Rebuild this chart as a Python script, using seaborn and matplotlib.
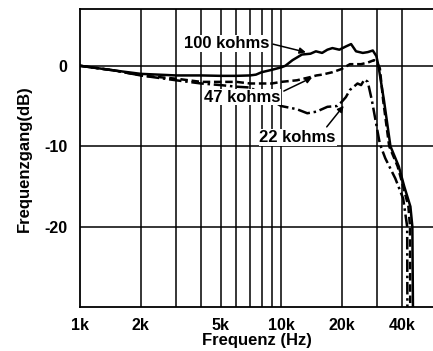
import numpy as np
import pandas as pd
import matplotlib
matplotlib.use("Agg")
import matplotlib.pyplot as plt
import seaborn as sns

# 100 kohms (solid)
f_100k = [1000, 1500, 2000, 3000, 4000, 5000, 6000, 7000, 7500, 8000, 9000, 10000,
          10500, 11400, 12700, 14000, 14900, 16000, 17000, 18000, 19500, 21000, 22300,
          23600, 25500, 27000, 28600, 29800, 30500, 32500, 35000, 38500, 41000, 44000,
          45000, 45300]
db_100k = [0, -0.6, -1.0, -1.2, -1.2, -1.25, -1.25, -1.2, -1.1, -0.8, -0.5, -0.2,
           0, 0.7, 1.4, 1.5, 1.8, 1.6, 2.0, 2.2, 2.0, 2.4, 2.7,
           1.8, 1.6, 1.7, 1.9, 1.2, 0.0, -4.3, -10, -12.5, -15, -17.5,
           -20, -30]

# 47 kohms (dashed)
f_47k = [1000, 1500, 2000, 3000, 4000, 5000, 6000, 7000, 8000, 9000, 10000, 12000,
         14000, 15000, 16000, 18000, 20000, 22000, 25000, 27000, 29000, 30000, 31000,
         32200, 34500, 38000, 40500, 43000, 43800, 43900]
db_47k = [0, -0.6, -1.2, -1.6, -2.0, -2.0, -2.0, -2.2, -2.2, -2.2, -2.0, -1.8,
          -1.4, -1.2, -1.1, -0.8, -0.4, 0.2, 0.2, 0.4, 0.7, 0.4, -0.3,
          -4.3, -10, -12.5, -15, -17.5, -20, -30]

# 22 kohms (dash-dot)
f_22k = [1000, 1500, 2000, 3000, 4000, 5000, 6000, 7000, 8000, 9000, 10000, 12000,
         13500, 15000, 17000, 19000, 20000, 21000, 22000, 23000, 24000, 25000, 26000,
         27000, 28300, 31000, 33000, 37000, 40500, 42400, 42500]
db_22k = [0, -0.6, -1.2, -1.8, -2.2, -2.4, -2.6, -2.7, -3.5, -4.3, -5.0, -5.4,
          -5.9, -5.7, -5.1, -5.0, -4.5, -3.9, -3.0, -2.6, -2.2, -2.4, -1.7,
          -2.0, -4.3, -9.7, -11.5, -14, -16.5, -20, -30]

x_ticks = [1000, 2000, 5000, 10000, 20000, 40000]
x_ticklabels = ["1k", "2k", "5k", "10k", "20k", "40k"]
x_grid = [2000, 3000, 4000, 5000, 6000, 7000, 8000, 9000, 10000, 20000, 30000, 40000]
y_ticks = [0, -10, -20]
y_ticklabels = ["0", "-10", "-20"]

df = pd.concat([
    pd.DataFrame({"f": f_100k, "db": db_100k, "r": "100 kohms"}),
    pd.DataFrame({"f": f_47k, "db": db_47k, "r": "47 kohms"}),
    pd.DataFrame({"f": f_22k, "db": db_22k, "r": "22 kohms"}),
])

sns.set_style("white")
plt.rcParams["font.family"] = ["Liberation Sans", "DejaVu Sans"]
plt.rcParams["text.color"] = "black"
plt.rcParams["axes.labelcolor"] = "black"
plt.rcParams["xtick.color"] = "black"
plt.rcParams["ytick.color"] = "black"

fig = plt.figure(figsize=(4.33, 3.51), dpi=100)
ax = fig.add_axes([0.185, 0.125, 0.815, 0.848])

# grid lines
for xg in x_grid:
    ax.axvline(xg, color="black", lw=1.1, zorder=1)
for yg in y_ticks:
    ax.axhline(yg, color="black", lw=1.1, zorder=1)

styles = {"100 kohms": "-", "47 kohms": (0, (3, 1.5)), "22 kohms": (0, (5, 1.5, 1, 1.5))}
for name, ls in styles.items():
    sub = df[df["r"] == name]
    sns.lineplot(data=sub, x="f", y="db", ax=ax, color="black", lw=1.8,
                 linestyle=ls, sort=False, estimator=None, legend=False, zorder=3)

ax.set_xscale("log")
ax.set_xlim(1000, 57000)
ax.set_ylim(-30, 7)
ax.set_xticks(x_ticks)
ax.set_xticklabels(x_ticklabels)
ax.minorticks_off()
ax.set_yticks(y_ticks)
ax.set_yticklabels(y_ticklabels)
ax.tick_params(axis="x", length=0, labelsize=11.5, pad=8)
ax.tick_params(axis="y", length=0, labelsize=11.5, pad=9)
for lab in ax.get_xticklabels() + ax.get_yticklabels():
    lab.set_fontweight("bold")
ax.set_xlabel("Frequenz (Hz)", fontsize=12, fontweight="bold", labelpad=0)
ax.set_ylabel("Frequenzgang(dB)", fontsize=12, fontweight="bold", labelpad=9)

for side in ["left", "top", "bottom"]:
    ax.spines[side].set_color("black")
    ax.spines[side].set_linewidth(1.3)
ax.spines["right"].set_visible(False)

# labels sit on a white patch, gridlines break behind them
box = dict(boxstyle="square,pad=0.05", fc="white", ec="none")
arrow = dict(arrowstyle="-|>", color="black", lw=1.1, mutation_scale=9)
ax.annotate("100 kohms", xy=(13700, 1.6), xytext=(3290, 2.8), fontsize=12,
            fontweight="bold", ha="left", va="center", bbox=box, zorder=4,
            arrowprops=dict(arrow, relpos=(1.0, 0.5)))
ax.annotate("47 kohms", xy=(14700, -1.3), xytext=(4140, -3.9), fontsize=12,
            fontweight="bold", ha="left", va="center", bbox=box, zorder=4,
            arrowprops=dict(arrow, relpos=(1.0, 0.8)))
ax.annotate("22 kohms", xy=(20900, -4.7), xytext=(7800, -8.9), fontsize=12,
            fontweight="bold", ha="left", va="center", bbox=box, zorder=4,
            arrowprops=dict(arrow, relpos=(0.85, 1.0)))

fig.savefig("out.png", dpi=100)
